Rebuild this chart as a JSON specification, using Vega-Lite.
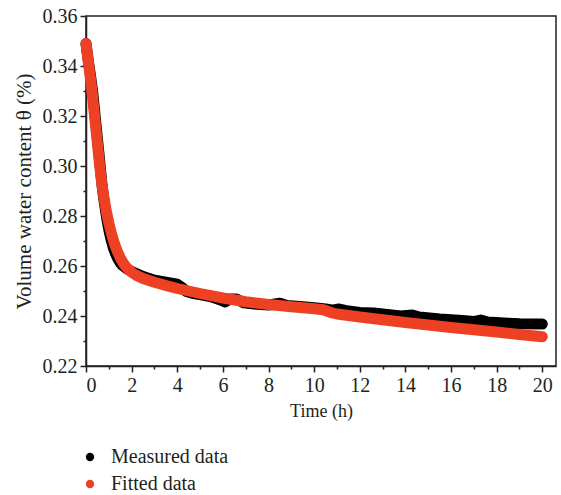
{
  "$schema": "https://vega.github.io/schema/vega-lite/v6.json",
  "width": 470,
  "height": 350,
  "autosize": "none",
  "padding": {"left": 86, "top": 16, "right": 5, "bottom": 129},
  "background": "white",
  "config": {
    "font": "Liberation Serif",
    "view": {"stroke": "#231f20", "strokeWidth": 1.5},
    "axis": {
      "grid": false,
      "domainColor": "#231f20",
      "domainWidth": 1.5,
      "tickColor": "#231f20",
      "tickWidth": 1.5,
      "labelColor": "#231f20",
      "titleColor": "#231f20",
      "labelFont": "Liberation Serif",
      "titleFont": "Liberation Serif",
      "labelFontSize": 20,
      "titleFontSize": 19,
      "titleFontWeight": "normal"
    },
    "legend": {
      "labelFont": "Liberation Serif",
      "labelFontSize": 20,
      "labelColor": "#231f20"
    }
  },
  "datasets": {
    "measured": [
      {"t": 0, "v": 0.349}, {"t": 0.1, "v": 0.342}, {"t": 0.2, "v": 0.336}, {"t": 0.3, "v": 0.329},
      {"t": 0.4, "v": 0.320}, {"t": 0.5, "v": 0.311}, {"t": 0.6, "v": 0.302}, {"t": 0.7, "v": 0.2925},
      {"t": 0.8, "v": 0.2855}, {"t": 0.9, "v": 0.2795}, {"t": 1.0, "v": 0.2745}, {"t": 1.1, "v": 0.2705},
      {"t": 1.2, "v": 0.2672}, {"t": 1.3, "v": 0.2648}, {"t": 1.4, "v": 0.2628}, {"t": 1.5, "v": 0.2613},
      {"t": 1.6, "v": 0.2602}, {"t": 1.8, "v": 0.2588}, {"t": 2.0, "v": 0.2578}, {"t": 2.5, "v": 0.2558},
      {"t": 3.0, "v": 0.2543}, {"t": 3.5, "v": 0.2535}, {"t": 4.0, "v": 0.2527}, {"t": 4.2, "v": 0.2515},
      {"t": 4.4, "v": 0.2498}, {"t": 4.7, "v": 0.2490}, {"t": 5.0, "v": 0.2486}, {"t": 5.5, "v": 0.2477},
      {"t": 5.9, "v": 0.2464}, {"t": 6.1, "v": 0.2456}, {"t": 6.3, "v": 0.2468}, {"t": 6.6, "v": 0.2468},
      {"t": 6.9, "v": 0.2453}, {"t": 7.5, "v": 0.2447}, {"t": 8.0, "v": 0.2444}, {"t": 8.5, "v": 0.2451},
      {"t": 8.8, "v": 0.2442}, {"t": 9.5, "v": 0.2437}, {"t": 10.0, "v": 0.2433},
      {"t": 10.5, "v": 0.2428}, {"t": 10.8, "v": 0.2423}, {"t": 11.1, "v": 0.2428}, {"t": 11.5, "v": 0.2420},
      {"t": 12.0, "v": 0.2414}, {"t": 12.6, "v": 0.2412}, {"t": 13.0, "v": 0.2408}, {"t": 13.8, "v": 0.2400},
      {"t": 14.3, "v": 0.2404}, {"t": 14.6, "v": 0.2396}, {"t": 15.5, "v": 0.2388}, {"t": 16.5, "v": 0.2382},
      {"t": 17.0, "v": 0.2378}, {"t": 17.3, "v": 0.2384}, {"t": 17.6, "v": 0.2376}, {"t": 18.5, "v": 0.2371},
      {"t": 19.0, "v": 0.2369}, {"t": 20.0, "v": 0.2368}
    ],
    "fitted": [
      {"t": 0, "v": 0.349}, {"t": 0.25, "v": 0.331}, {"t": 0.5, "v": 0.309}, {"t": 0.6, "v": 0.300},
      {"t": 0.7, "v": 0.2925}, {"t": 0.8, "v": 0.2865}, {"t": 0.9, "v": 0.2815}, {"t": 1.0, "v": 0.2772},
      {"t": 1.1, "v": 0.2735}, {"t": 1.2, "v": 0.2703}, {"t": 1.3, "v": 0.2676}, {"t": 1.4, "v": 0.2653},
      {"t": 1.5, "v": 0.2633}, {"t": 1.6, "v": 0.2617}, {"t": 1.7, "v": 0.2603}, {"t": 1.8, "v": 0.2592},
      {"t": 2.0, "v": 0.2575}, {"t": 2.2, "v": 0.2563}, {"t": 2.5, "v": 0.2550}, {"t": 3.0, "v": 0.2535},
      {"t": 3.5, "v": 0.2522}, {"t": 4.0, "v": 0.2510}, {"t": 5.0, "v": 0.2490}, {"t": 6.0, "v": 0.2472},
      {"t": 7.0, "v": 0.2457}, {"t": 8.0, "v": 0.2446}, {"t": 9.0, "v": 0.2437}, {"t": 10.0, "v": 0.2429},
      {"t": 10.4, "v": 0.2425}, {"t": 10.8, "v": 0.2412}, {"t": 11.0, "v": 0.2408}, {"t": 12.0, "v": 0.2396},
      {"t": 13.0, "v": 0.2385}, {"t": 14.0, "v": 0.2374}, {"t": 15.0, "v": 0.2364}, {"t": 16.0, "v": 0.2354},
      {"t": 17.0, "v": 0.2345}, {"t": 18.0, "v": 0.2336}, {"t": 19.0, "v": 0.2326}, {"t": 20.0, "v": 0.2317}
    ]
  },
  "encoding": {
    "x": {
      "field": "t", "type": "quantitative",
      "scale": {"domain": [0, 20.6], "nice": false, "zero": false},
      "axis": {
        "title": "Time (h)",
        "titleFontSize": 18,
        "values": [0,1,2,3,4,5,6,7,8,9,10,11,12,13,14,15,16,17,18,19,20],
        "labelExpr": "datum.value % 2 == 0 ? format(datum.value, 'd') : ''",
        "tickSize": {"condition": {"test": "datum.value % 2 == 1", "value": 3}, "value": 6},
        "labelPadding": 3,
        "titlePadding": 7
      }
    },
    "y": {
      "field": "v", "type": "quantitative",
      "scale": {"domain": [0.22, 0.36], "nice": false, "zero": false},
      "axis": {
        "title": "Volume water content θ (%)",
        "titleFontSize": 21,
        "values": [0.22,0.23,0.24,0.25,0.26,0.27,0.28,0.29,0.30,0.31,0.32,0.33,0.34,0.35,0.36],
        "labelExpr": "round(datum.value * 100) % 2 == 0 ? format(datum.value, '.2f') : ''",
        "tickSize": {"condition": {"test": "round(datum.value * 100) % 2 == 1", "value": 3}, "value": 6},
        "labelPadding": 3,
        "titlePadding": 8
      }
    },
    "color": {
      "field": "s", "type": "nominal",
      "scale": {"domain": ["Measured data", "Fitted data"], "range": ["#000000", "#ee4124"]},
      "legend": {
        "title": null,
        "orient": "none",
        "legendX": -6,
        "legendY": 431,
        "symbolType": "circle",
        "symbolSize": 70,
        "symbolStrokeWidth": 0,
        "rowPadding": 7,
        "labelOffset": 11,
        "encode": {"symbols": {"update": {"fill": {"scale": "color", "field": "value"}, "strokeWidth": {"value": 0}}}}
      }
    }
  },
  "layer": [
    {
      "data": {"name": "measured"},
      "transform": [{"calculate": "'Measured data'", "as": "s"}],
      "mark": {"type": "line", "strokeWidth": 11, "strokeCap": "round", "strokeJoin": "round"}
    },
    {
      "data": {"name": "fitted"},
      "transform": [{"calculate": "'Fitted data'", "as": "s"}],
      "mark": {"type": "line", "strokeWidth": 11, "strokeCap": "round", "strokeJoin": "round"}
    }
  ]
}
